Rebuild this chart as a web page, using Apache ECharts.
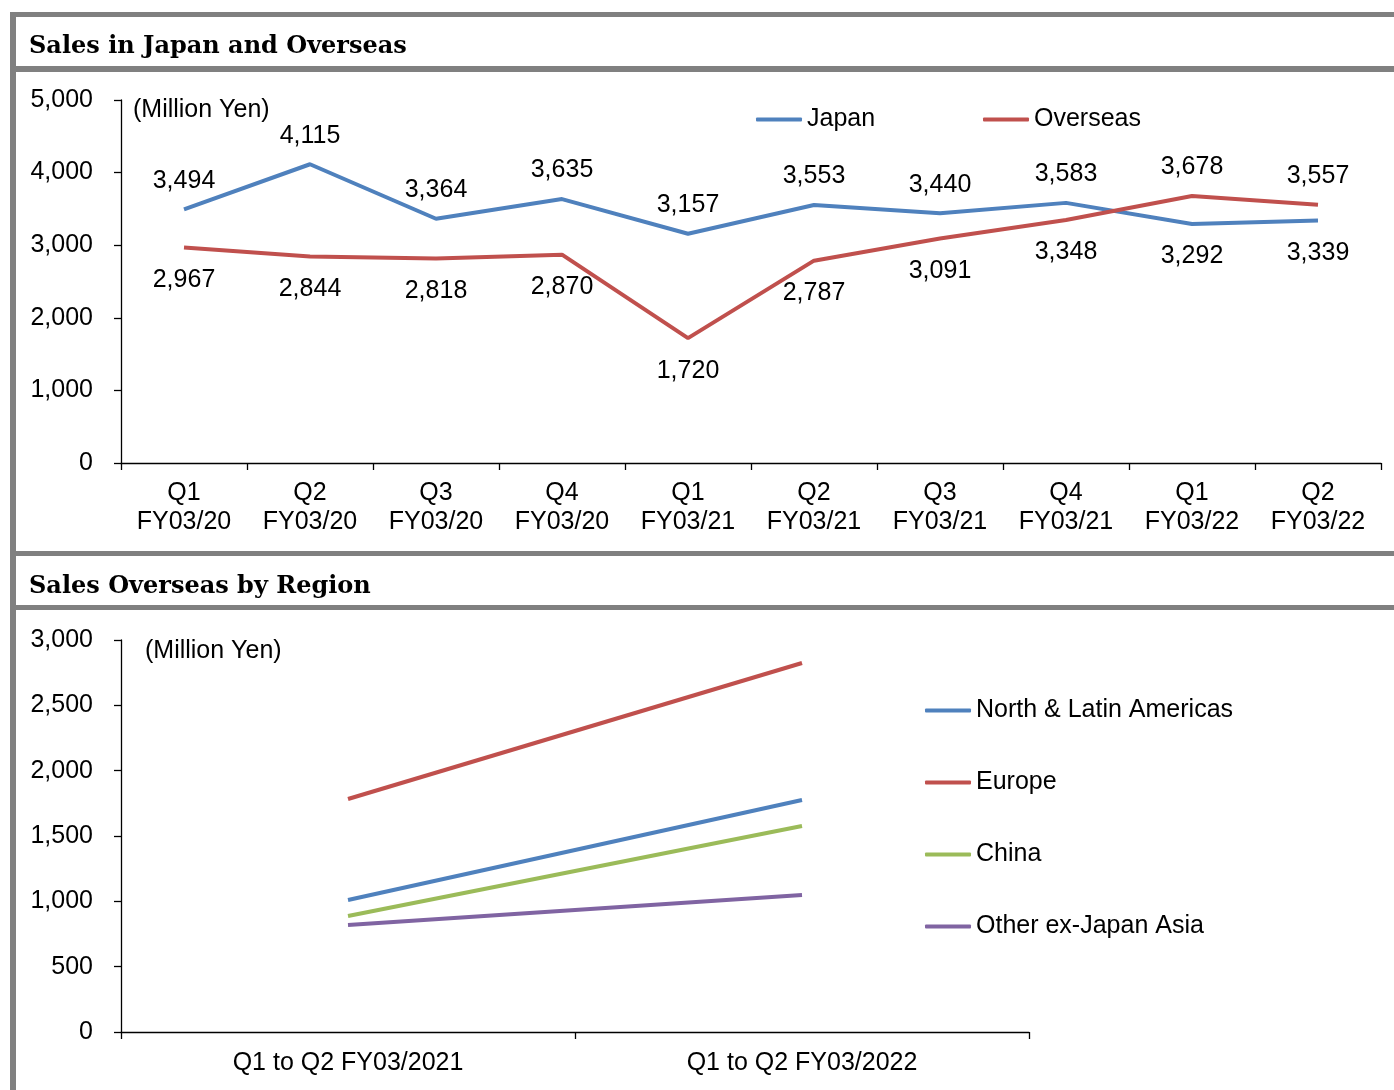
<!DOCTYPE html>
<html>
<head>
<meta charset="utf-8">
<script src="https://cdn.jsdelivr.net/npm/echarts@6/dist/echarts.min.js"></script>
<style>
  html, body { margin: 0; padding: 0; background: #fff; }
  #chart { width: 1394px; height: 1090px; }
</style>
</head>
<body>
<div id="chart"></div>
<script>
// quarterly sales (million yen)
const quarters = ['Q1\nFY03/20', 'Q2\nFY03/20', 'Q3\nFY03/20', 'Q4\nFY03/20', 'Q1\nFY03/21',
  'Q2\nFY03/21', 'Q3\nFY03/21', 'Q4\nFY03/21', 'Q1\nFY03/22', 'Q2\nFY03/22'];
const japan = [3494, 4115, 3364, 3635, 3157, 3553, 3440, 3583, 3292, 3339];
const overseas = [2967, 2844, 2818, 2870, 1720, 2787, 3091, 3348, 3678, 3557];

// overseas sales by region, first half totals
const periods = ['Q1 to Q2 FY03/2021', 'Q1 to Q2 FY03/2022'];
const americas = [1010, 1776];
const europe = [1783, 2824];
const china = [888, 1577];
const otherAsia = [819, 1048];

const FONT = "'Liberation Sans', Arial, sans-serif";
const BLUE = '#4F81BD', RED = '#C0504D', GREEN = '#9BBB59', PURPLE = '#8064A2';
const GRAY = '#808080';

// label goes above the line when it is the higher of the two at that quarter
function labelled(values, other) {
  return values.map((v, i) => ({
    value: v,
    label: v >= other[i]
      ? { position: 'top', distance: 16 }
      : { position: 'bottom', distance: 20 }
  }));
}

const axisLine = { show: true, lineStyle: { color: '#000', width: 1.3 } };
const textBase = { color: '#000', fontFamily: FONT, fontSize: 25 };
const titleStyle = { fontFamily: "'DejaVu Serif', serif", fontWeight: 'bold', fontSize: 24, color: '#000' };

function legendAt(name, left, top) {
  return {
    data: [name], left: left, top: top, padding: 0,
    icon: 'roundRect', itemWidth: 46, itemHeight: 4, itemGap: 5,
    textStyle: Object.assign({}, textBase, { padding: [0, 0, 0, 0] })
  };
}

function lineSeries(name, data, color, xi) {
  return {
    name: name, type: 'line', xAxisIndex: xi, yAxisIndex: xi, data: data,
    symbol: 'circle', symbolSize: 0, showSymbol: true,
    lineStyle: { color: color, width: 4 }, itemStyle: { color: color },
    emphasis: { disabled: true }
  };
}

const chart = echarts.init(document.getElementById('chart'), null, { renderer: 'canvas' });

const japanSeries = lineSeries('Japan', labelled(japan, overseas), BLUE, 0);
const overseasSeries = lineSeries('Overseas', labelled(overseas, japan), RED, 0);
[japanSeries, overseasSeries].forEach(s => {
  s.label = { show: true, formatter: p => p.value.toLocaleString('en-US'), ...textBase };
});

chart.setOption({
  animation: false,
  backgroundColor: '#fff',
  title: [
    { text: 'Sales in Japan and Overseas', left: 24, top: 30, textStyle: titleStyle },
    { text: 'Sales Overseas by Region', left: 24, top: 570, textStyle: titleStyle }
  ],
  graphic: [
    { type: 'rect', shape: { x: 10, y: 12, width: 1384, height: 5 }, style: { fill: GRAY } },
    { type: 'rect', shape: { x: 10, y: 66, width: 1384, height: 6 }, style: { fill: GRAY } },
    { type: 'rect', shape: { x: 10, y: 551, width: 1384, height: 5 }, style: { fill: GRAY } },
    { type: 'rect', shape: { x: 10, y: 605, width: 1384, height: 5 }, style: { fill: GRAY } },
    { type: 'rect', shape: { x: 10, y: 12, width: 6, height: 1078 }, style: { fill: GRAY } },
    { type: 'text', left: 133, top: 98, style: { text: '(Million Yen)', font: "25px 'Liberation Sans', Arial, sans-serif", fill: '#000' } },
    { type: 'text', left: 145, top: 639, style: { text: '(Million Yen)', font: "25px 'Liberation Sans', Arial, sans-serif", fill: '#000' } }
  ],
  legend: [
    legendAt('Japan', 756, 107),
    legendAt('Overseas', 983, 107),
    legendAt('North & Latin Americas', 925, 698),
    legendAt('Europe', 925, 770),
    legendAt('China', 925, 842),
    legendAt('Other ex-Japan Asia', 925, 914)
  ],
  grid: [
    { left: 121, top: 100, width: 1260, height: 363 },
    { left: 121, top: 640, width: 908, height: 392 }
  ],
  xAxis: [
    { type: 'category', gridIndex: 0, data: quarters, boundaryGap: true,
      axisLine: axisLine,
      axisTick: { show: true, interval: 0, length: 7, lineStyle: { color: '#000', width: 1.3 } },
      axisLabel: Object.assign({}, textBase, { interval: 0, margin: 16, lineHeight: 29 }) },
    { type: 'category', gridIndex: 1, data: periods, boundaryGap: true,
      axisLine: axisLine,
      axisTick: { show: true, interval: 0, length: 7, lineStyle: { color: '#000', width: 1.3 } },
      axisLabel: Object.assign({}, textBase, { interval: 0, margin: 17, lineHeight: 28 }) }
  ],
  yAxis: [
    { type: 'value', gridIndex: 0, min: 0, max: 5000, interval: 1000,
      axisLine: axisLine, splitLine: { show: false },
      axisTick: { show: true, length: 7, lineStyle: { color: '#000', width: 1.3 } },
      axisLabel: Object.assign({}, textBase, { margin: 28, formatter: v => v.toLocaleString('en-US') }) },
    { type: 'value', gridIndex: 1, min: 0, max: 3000, interval: 500,
      axisLine: axisLine, splitLine: { show: false },
      axisTick: { show: true, length: 7, lineStyle: { color: '#000', width: 1.3 } },
      axisLabel: Object.assign({}, textBase, { margin: 28, formatter: v => v.toLocaleString('en-US') }) }
  ],
  series: [
    japanSeries,
    overseasSeries,
    lineSeries('North & Latin Americas', americas, BLUE, 1),
    lineSeries('Europe', europe, RED, 1),
    lineSeries('China', china, GREEN, 1),
    lineSeries('Other ex-Japan Asia', otherAsia, PURPLE, 1)
  ]
});
</script>
</body>
</html>
